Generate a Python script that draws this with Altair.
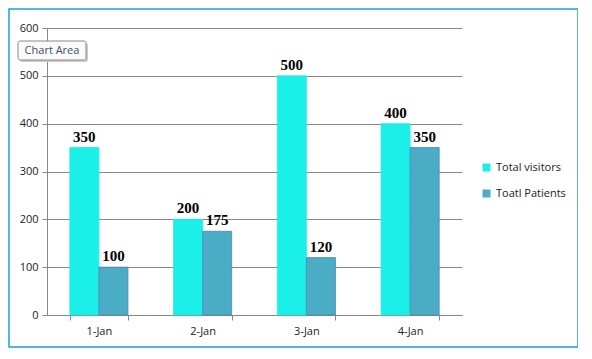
import altair as alt
import pandas as pd

dates = ["1-Jan", "2-Jan", "3-Jan", "4-Jan"]
series_names = ["Total visitors", "Toatl Patients"]
visitors = [350, 200, 500, 400]
patients = [100, 175, 120, 350]
colors = ["#1af0e8", "#4bacc6"]

rows = []
for d, v, p in zip(dates, visitors, patients):
    rows.append({"date": d, "series": series_names[0], "value": v})
    rows.append({"date": d, "series": series_names[1], "value": p})
df = pd.DataFrame(rows)

base = alt.Chart(df).encode(
    x=alt.X("date:N", sort=dates, title=None,
            scale=alt.Scale(paddingInner=0.44, paddingOuter=0.22),
            axis=alt.Axis(labelAngle=0, tickBand="extent", labelFont="Open Sans",
                          labelFontSize=11, labelColor="#222", labelPadding=5,
                          domainColor="#888", tickColor="#888", tickSize=5, grid=False)),
    xOffset=alt.XOffset("series:N", sort=series_names),
)

bars = base.mark_bar(strokeWidth=0.8).encode(
    y=alt.Y("value:Q", title=None,
            scale=alt.Scale(domain=[0, 600]),
            axis=alt.Axis(values=[0, 100, 200, 300, 400, 500, 600], labelFont="Open Sans",
                          labelFontSize=11, labelColor="#222", labelPadding=4,
                          domainColor="#888", tickColor="#888", tickSize=5,
                          gridColor="#888", gridWidth=1)),
    color=alt.Color("series:N", sort=series_names,
                    scale=alt.Scale(domain=series_names, range=colors),
                    legend=alt.Legend(title=None, orient="none", legendX=434, legendY=134,
                                      symbolType="square", symbolSize=64, symbolStrokeWidth=0,
                                      labelFont="Open Sans", labelFontSize=11, labelColor="#222",
                                      rowPadding=14)),
    stroke=alt.Stroke("series:N", sort=series_names,
                      scale=alt.Scale(domain=series_names, range=["#1af0e8", "#4f81bd"]),
                      legend=None),
)

labels = base.mark_text(font="Liberation Serif", fontSize=15, fontWeight="bold",
                        color="#000", baseline="bottom", dy=-3).encode(
    y=alt.Y("value:Q"),
    text=alt.Text("value:Q"),
)

deco = pd.DataFrame({"t": ["Chart Area"]})
border = alt.Chart(deco).mark_rect(fill=None, stroke="#1b9fdf", strokeWidth=1.5).encode(
    x=alt.value(-38), x2=alt.value(531), y=alt.value(-19), y2=alt.value(319))
tip_shadow = alt.Chart(deco).mark_rect(fill="#cccccc", cornerRadius=2).encode(
    x=alt.value(-27), x2=alt.value(41), y=alt.value(15), y2=alt.value(34))
tip_box = alt.Chart(deco).mark_rect(fill="#fafafa", stroke="#888", strokeWidth=1,
                                    cornerRadius=2).encode(
    x=alt.value(-29), x2=alt.value(39), y=alt.value(13), y2=alt.value(32))
tip_text = alt.Chart(deco).mark_text(font="Open Sans", fontSize=11, color="#3e4e66").encode(
    x=alt.value(5), y=alt.value(22.5), text="t:N")

chart = alt.layer(bars, labels, border, tip_shadow, tip_box, tip_text).properties(
    width=415, height=287,
    autosize=alt.AutoSizeParams(type="none"),
    padding={"left": 39, "top": 20, "right": 116, "bottom": 33},
).configure_view(stroke=None).configure_axis(labelFontWeight="normal")

chart.save("out.html", embed_options={"renderer": "svg", "actions": False})
